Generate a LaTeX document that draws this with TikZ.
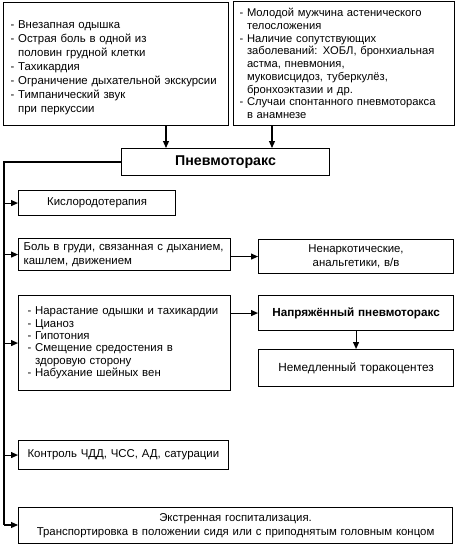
\documentclass[tikz,border=0pt]{standalone}
\usepackage{fontspec}
\setmainfont{Liberation Sans}
\usetikzlibrary{arrows.meta}
\begin{document}
\begin{tikzpicture}[x=1pt,y=-1pt,
  box/.style={draw, line width=1.1pt, anchor=north west, inner ysep=0pt, font=\fontsize{11.4}{13.7}\selectfont},
  arr/.style={line width=1.1pt, -{Triangle[length=7pt,width=6pt]}},
  conn/.style={line width=1.1pt}]
\useasboundingbox (0,0) rectangle (457,546);
% top boxes
\node[box, minimum width=225pt, minimum height=123pt, text width=211pt, inner xsep=7pt, align=left, font=\fontsize{11.4}{13.9}\selectfont] (sym1) at (3,2)
 {\rule{0pt}{15pt}- Внезапная одышка\\- Острая боль в одной из\\\phantom{- }половин грудной клетки\\- Тахикардия\\- Ограничение дыхательной экскурсии\\- Тимпанический звук\\\phantom{- }при перкуссии};
\node[box, minimum width=221pt, minimum height=124pt, text width=209pt, inner xsep=6pt, align=left, font=\fontsize{11.2}{12.7}\selectfont] (risk) at (233,1)
 {- Молодой мужчина астенического\\\phantom{- }телосложения\\- Наличие сопутствующих\\\phantom{- }заболеваний: ХОБЛ, бронхиальная\\\phantom{- }астма, пневмония,\\\phantom{- }муковисцидоз, туберкулёз,\\\phantom{- }бронхоэктазии и др.\\- Случаи спонтанного пневмоторакса\\\phantom{- }в анамнезе};
\node[box, minimum width=208pt, minimum height=27pt, text width=200pt, inner xsep=4pt, align=center, font=\fontsize{14.2}{16}\selectfont\bfseries] (pnx) at (121,148) {Пневмоторакс};
% left column
\node[box, minimum width=157pt, minimum height=25pt, text width=149pt, inner xsep=4pt, align=center] (oxy) at (18,190) {Кислородотерапия};
\node[box, minimum width=212pt, minimum height=32pt, text width=202pt, inner xsep=5pt, align=left] (pain) at (18,238)
 {Боль в груди, связанная с дыханием,\\кашлем, движением};
\node[box, minimum width=212pt, minimum height=95pt, text width=194pt, inner xsep=9pt, align=left, font=\fontsize{11.4}{12.4}\selectfont] (symp) at (18,295)
 {- Нарастание одышки и тахикардии\\- Цианоз\\- Гипотония\\- Смещение средостения в\\\phantom{- }здоровую сторону\\- Набухание шейных вен};
\node[box, minimum width=210pt, minimum height=29pt, text width=192pt, inner xsep=9pt, align=left] (ctrl) at (18,440) {Контроль ЧДД, ЧСС, АД, сатурации};
\node[box, minimum width=434pt, minimum height=36pt, text width=428pt, inner xsep=3pt, align=center] (hosp) at (18,507)
 {Экстренная госпитализация.\\Транспортировка в положении сидя или с приподнятым головным концом};
% right column
\node[box, minimum width=195pt, minimum height=34pt, text width=187pt, inner xsep=4pt, align=center] (analg) at (258,239) {Ненаркотические,\\анальгетики, в/в};
\node[box, minimum width=195pt, minimum height=35pt, text width=187pt, inner xsep=4pt, align=center, font=\fontsize{11.7}{13}\selectfont\bfseries] (tens) at (258,295) {Напряжённый пневмоторакс};
\node[box, minimum width=195pt, minimum height=37pt, text width=187pt, inner xsep=4pt, align=center, font=\fontsize{11.8}{13.7}\selectfont] (thora) at (258,349) {Немедленный торакоцентез};
% connectors
\coordinate (a1) at (166,0);
\coordinate (a2) at (272,0);
\coordinate (ttop) at (4,162);
\coordinate (tbot) at (4,525);
\draw[arr] (sym1.south -| a1) -- (pnx.north -| a1);
\draw[arr] (risk.south -| a2) -- (pnx.north -| a2);
\draw[conn] (pnx.west |- ttop) -- (ttop) -- (tbot);
\draw[arr] (ttop |- oxy.west) -- (oxy.west);
\draw[arr] (ttop |- pain.west) -- (pain.west);
\draw[arr] (ttop |- symp.west) -- (symp.west);
\draw[arr] (ttop |- ctrl.west) -- (ctrl.west);
\draw[arr] (tbot) -- (tbot -| hosp.west);
\draw[arr] (pain.east |- analg.west) -- (analg.west);
\draw[arr] (symp.east |- tens.west) -- (tens.west);
\draw[arr] (tens.south) -- (thora.north);
\end{tikzpicture}
\end{document}
